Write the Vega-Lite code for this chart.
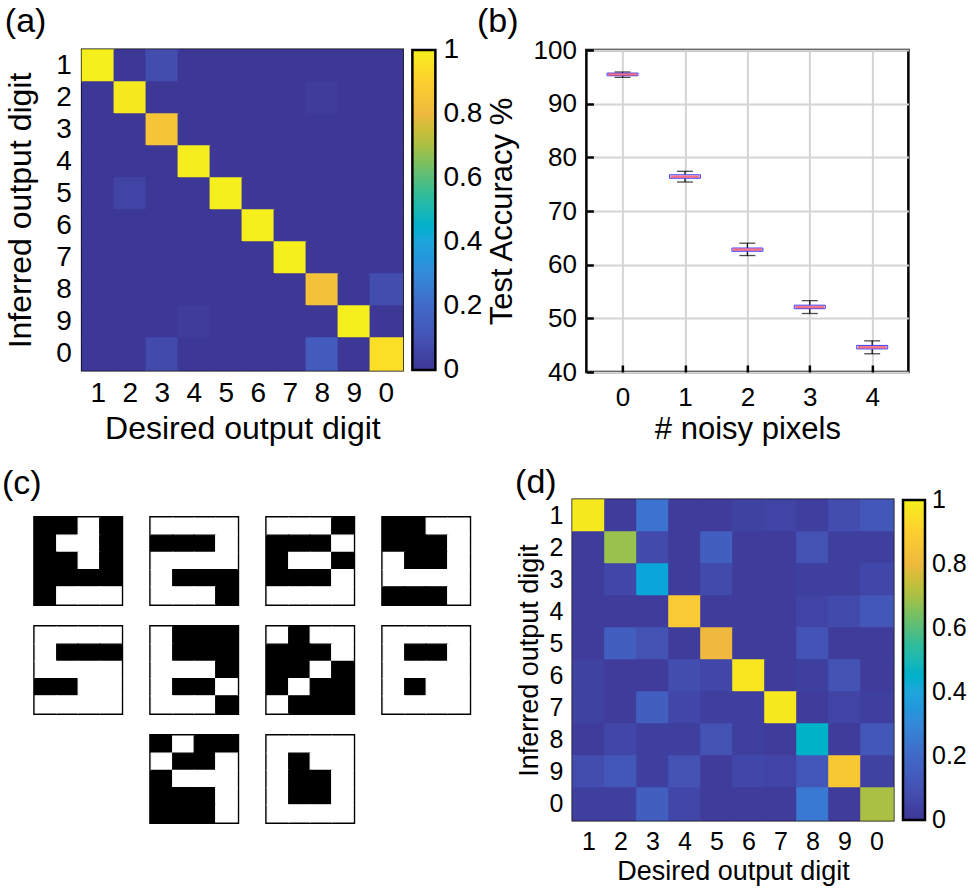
{
  "$schema": "https://vega.github.io/schema/vega-lite/v6.json",
  "background": "white",
  "padding": {"left": 2, "top": 3, "right": 0, "bottom": 0},
  "config": {
    "font": "Liberation Sans",
    "axis": {"labelColor": "black", "titleColor": "black", "titleFontWeight": "normal", "labelFont": "Liberation Sans", "titleFont": "Liberation Sans"},
    "legend": {"labelColor": "black", "labelFont": "Liberation Sans"},
    "title": {"fontWeight": "normal", "fontSize": 34, "anchor": "start", "frame": "bounds", "color": "black", "font": "Liberation Sans"}
  },
  "datasets": {
    "confA": [
      {"inf":"1","des":"1","p":1},{"inf":"1","des":"2","p":0},{"inf":"1","des":"3","p":0.08},{"inf":"1","des":"4","p":0},{"inf":"1","des":"5","p":0},{"inf":"1","des":"6","p":0},{"inf":"1","des":"7","p":0},{"inf":"1","des":"8","p":0},{"inf":"1","des":"9","p":0},{"inf":"1","des":"0","p":0},
      {"inf":"2","des":"1","p":0},{"inf":"2","des":"2","p":0.98},{"inf":"2","des":"3","p":0},{"inf":"2","des":"4","p":0},{"inf":"2","des":"5","p":0},{"inf":"2","des":"6","p":0},{"inf":"2","des":"7","p":0},{"inf":"2","des":"8","p":0.02},{"inf":"2","des":"9","p":0},{"inf":"2","des":"0","p":0},
      {"inf":"3","des":"1","p":0},{"inf":"3","des":"2","p":0},{"inf":"3","des":"3","p":0.85},{"inf":"3","des":"4","p":0},{"inf":"3","des":"5","p":0},{"inf":"3","des":"6","p":0},{"inf":"3","des":"7","p":0},{"inf":"3","des":"8","p":0},{"inf":"3","des":"9","p":0},{"inf":"3","des":"0","p":0},
      {"inf":"4","des":"1","p":0},{"inf":"4","des":"2","p":0},{"inf":"4","des":"3","p":0},{"inf":"4","des":"4","p":0.99},{"inf":"4","des":"5","p":0},{"inf":"4","des":"6","p":0},{"inf":"4","des":"7","p":0},{"inf":"4","des":"8","p":0},{"inf":"4","des":"9","p":0},{"inf":"4","des":"0","p":0},
      {"inf":"5","des":"1","p":0},{"inf":"5","des":"2","p":0.05},{"inf":"5","des":"3","p":0},{"inf":"5","des":"4","p":0},{"inf":"5","des":"5","p":1},{"inf":"5","des":"6","p":0},{"inf":"5","des":"7","p":0},{"inf":"5","des":"8","p":0},{"inf":"5","des":"9","p":0},{"inf":"5","des":"0","p":0},
      {"inf":"6","des":"1","p":0},{"inf":"6","des":"2","p":0},{"inf":"6","des":"3","p":0},{"inf":"6","des":"4","p":0},{"inf":"6","des":"5","p":0},{"inf":"6","des":"6","p":1},{"inf":"6","des":"7","p":0},{"inf":"6","des":"8","p":0},{"inf":"6","des":"9","p":0},{"inf":"6","des":"0","p":0},
      {"inf":"7","des":"1","p":0},{"inf":"7","des":"2","p":0},{"inf":"7","des":"3","p":0},{"inf":"7","des":"4","p":0},{"inf":"7","des":"5","p":0},{"inf":"7","des":"6","p":0},{"inf":"7","des":"7","p":1},{"inf":"7","des":"8","p":0},{"inf":"7","des":"9","p":0},{"inf":"7","des":"0","p":0},
      {"inf":"8","des":"1","p":0},{"inf":"8","des":"2","p":0},{"inf":"8","des":"3","p":0},{"inf":"8","des":"4","p":0},{"inf":"8","des":"5","p":0},{"inf":"8","des":"6","p":0},{"inf":"8","des":"7","p":0},{"inf":"8","des":"8","p":0.84},{"inf":"8","des":"9","p":0},{"inf":"8","des":"0","p":0.08},
      {"inf":"9","des":"1","p":0},{"inf":"9","des":"2","p":0},{"inf":"9","des":"3","p":0},{"inf":"9","des":"4","p":0.02},{"inf":"9","des":"5","p":0},{"inf":"9","des":"6","p":0},{"inf":"9","des":"7","p":0},{"inf":"9","des":"8","p":0},{"inf":"9","des":"9","p":1},{"inf":"9","des":"0","p":0},
      {"inf":"0","des":"1","p":0},{"inf":"0","des":"2","p":0},{"inf":"0","des":"3","p":0.07},{"inf":"0","des":"4","p":0},{"inf":"0","des":"5","p":0},{"inf":"0","des":"6","p":0},{"inf":"0","des":"7","p":0},{"inf":"0","des":"8","p":0.14},{"inf":"0","des":"9","p":0},{"inf":"0","des":"0","p":0.95}
    ],
    "confD": [
      {"inf":"1","des":"1","p":0.98},{"inf":"1","des":"2","p":0.02},{"inf":"1","des":"3","p":0.23},{"inf":"1","des":"4","p":0.02},{"inf":"1","des":"5","p":0.02},{"inf":"1","des":"6","p":0.04},{"inf":"1","des":"7","p":0.05},{"inf":"1","des":"8","p":0.03},{"inf":"1","des":"9","p":0.08},{"inf":"1","des":"0","p":0.12},
      {"inf":"2","des":"1","p":0.02},{"inf":"2","des":"2","p":0.68},{"inf":"2","des":"3","p":0.07},{"inf":"2","des":"4","p":0.02},{"inf":"2","des":"5","p":0.15},{"inf":"2","des":"6","p":0.02},{"inf":"2","des":"7","p":0.02},{"inf":"2","des":"8","p":0.1},{"inf":"2","des":"9","p":0.03},{"inf":"2","des":"0","p":0.03},
      {"inf":"3","des":"1","p":0.02},{"inf":"3","des":"2","p":0.06},{"inf":"3","des":"3","p":0.41},{"inf":"3","des":"4","p":0.02},{"inf":"3","des":"5","p":0.07},{"inf":"3","des":"6","p":0.02},{"inf":"3","des":"7","p":0.02},{"inf":"3","des":"8","p":0.03},{"inf":"3","des":"9","p":0.03},{"inf":"3","des":"0","p":0.06},
      {"inf":"4","des":"1","p":0.02},{"inf":"4","des":"2","p":0.02},{"inf":"4","des":"3","p":0.02},{"inf":"4","des":"4","p":0.88},{"inf":"4","des":"5","p":0.02},{"inf":"4","des":"6","p":0.02},{"inf":"4","des":"7","p":0.02},{"inf":"4","des":"8","p":0.05},{"inf":"4","des":"9","p":0.07},{"inf":"4","des":"0","p":0.12},
      {"inf":"5","des":"1","p":0.02},{"inf":"5","des":"2","p":0.15},{"inf":"5","des":"3","p":0.1},{"inf":"5","des":"4","p":0.02},{"inf":"5","des":"5","p":0.8},{"inf":"5","des":"6","p":0.02},{"inf":"5","des":"7","p":0.02},{"inf":"5","des":"8","p":0.11},{"inf":"5","des":"9","p":0.02},{"inf":"5","des":"0","p":0.02},
      {"inf":"6","des":"1","p":0.04},{"inf":"6","des":"2","p":0.02},{"inf":"6","des":"3","p":0.02},{"inf":"6","des":"4","p":0.08},{"inf":"6","des":"5","p":0.06},{"inf":"6","des":"6","p":0.97},{"inf":"6","des":"7","p":0.02},{"inf":"6","des":"8","p":0.03},{"inf":"6","des":"9","p":0.1},{"inf":"6","des":"0","p":0.02},
      {"inf":"7","des":"1","p":0.04},{"inf":"7","des":"2","p":0.02},{"inf":"7","des":"3","p":0.15},{"inf":"7","des":"4","p":0.06},{"inf":"7","des":"5","p":0.03},{"inf":"7","des":"6","p":0.03},{"inf":"7","des":"7","p":0.98},{"inf":"7","des":"8","p":0.02},{"inf":"7","des":"9","p":0.05},{"inf":"7","des":"0","p":0.03},
      {"inf":"8","des":"1","p":0.02},{"inf":"8","des":"2","p":0.06},{"inf":"8","des":"3","p":0.03},{"inf":"8","des":"4","p":0.03},{"inf":"8","des":"5","p":0.1},{"inf":"8","des":"6","p":0.03},{"inf":"8","des":"7","p":0.02},{"inf":"8","des":"8","p":0.46},{"inf":"8","des":"9","p":0.02},{"inf":"8","des":"0","p":0.12},
      {"inf":"9","des":"1","p":0.08},{"inf":"9","des":"2","p":0.12},{"inf":"9","des":"3","p":0.03},{"inf":"9","des":"4","p":0.1},{"inf":"9","des":"5","p":0.02},{"inf":"9","des":"6","p":0.06},{"inf":"9","des":"7","p":0.05},{"inf":"9","des":"8","p":0.12},{"inf":"9","des":"9","p":0.87},{"inf":"9","des":"0","p":0.04},
      {"inf":"0","des":"1","p":0.03},{"inf":"0","des":"2","p":0.03},{"inf":"0","des":"3","p":0.15},{"inf":"0","des":"4","p":0.06},{"inf":"0","des":"5","p":0.02},{"inf":"0","des":"6","p":0.02},{"inf":"0","des":"7","p":0.02},{"inf":"0","des":"8","p":0.25},{"inf":"0","des":"9","p":0.02},{"inf":"0","des":"0","p":0.7}
    ],
    "noise": [
      {"n":0,"lo":94.9,"q1":95.2,"med":95.45,"q3":95.7,"hi":95.9},
      {"n":1,"lo":75.4,"q1":76.1,"med":76.4,"q3":76.75,"hi":77.4},
      {"n":2,"lo":61.7,"q1":62.5,"med":62.8,"q3":63.1,"hi":64.0},
      {"n":3,"lo":50.9,"q1":51.8,"med":52.1,"q3":52.45,"hi":53.3},
      {"n":4,"lo":43.4,"q1":44.3,"med":44.6,"q3":44.95,"hi":45.8}
    ],
    "digits": [
      {"d":"1","r":0,"c":0,"v":0},{"d":"1","r":0,"c":1,"v":0},{"d":"1","r":0,"c":2,"v":1},{"d":"1","r":0,"c":3,"v":0},
      {"d":"1","r":1,"c":0,"v":0},{"d":"1","r":1,"c":1,"v":1},{"d":"1","r":1,"c":2,"v":1},{"d":"1","r":1,"c":3,"v":0},
      {"d":"1","r":2,"c":0,"v":0},{"d":"1","r":2,"c":1,"v":0},{"d":"1","r":2,"c":2,"v":1},{"d":"1","r":2,"c":3,"v":0},
      {"d":"1","r":3,"c":0,"v":0},{"d":"1","r":3,"c":1,"v":0},{"d":"1","r":3,"c":2,"v":0},{"d":"1","r":3,"c":3,"v":0},
      {"d":"1","r":4,"c":0,"v":0},{"d":"1","r":4,"c":1,"v":1},{"d":"1","r":4,"c":2,"v":1},{"d":"1","r":4,"c":3,"v":1},
      {"d":"2","r":0,"c":0,"v":1},{"d":"2","r":0,"c":1,"v":1},{"d":"2","r":0,"c":2,"v":1},{"d":"2","r":0,"c":3,"v":1},
      {"d":"2","r":1,"c":0,"v":0},{"d":"2","r":1,"c":1,"v":0},{"d":"2","r":1,"c":2,"v":0},{"d":"2","r":1,"c":3,"v":1},
      {"d":"2","r":2,"c":0,"v":1},{"d":"2","r":2,"c":1,"v":1},{"d":"2","r":2,"c":2,"v":1},{"d":"2","r":2,"c":3,"v":1},
      {"d":"2","r":3,"c":0,"v":1},{"d":"2","r":3,"c":1,"v":0},{"d":"2","r":3,"c":2,"v":0},{"d":"2","r":3,"c":3,"v":0},
      {"d":"2","r":4,"c":0,"v":1},{"d":"2","r":4,"c":1,"v":1},{"d":"2","r":4,"c":2,"v":1},{"d":"2","r":4,"c":3,"v":0},
      {"d":"3","r":0,"c":0,"v":1},{"d":"3","r":0,"c":1,"v":1},{"d":"3","r":0,"c":2,"v":1},{"d":"3","r":0,"c":3,"v":0},
      {"d":"3","r":1,"c":0,"v":0},{"d":"3","r":1,"c":1,"v":0},{"d":"3","r":1,"c":2,"v":0},{"d":"3","r":1,"c":3,"v":1},
      {"d":"3","r":2,"c":0,"v":0},{"d":"3","r":2,"c":1,"v":1},{"d":"3","r":2,"c":2,"v":1},{"d":"3","r":2,"c":3,"v":0},
      {"d":"3","r":3,"c":0,"v":0},{"d":"3","r":3,"c":1,"v":0},{"d":"3","r":3,"c":2,"v":0},{"d":"3","r":3,"c":3,"v":1},
      {"d":"3","r":4,"c":0,"v":1},{"d":"3","r":4,"c":1,"v":1},{"d":"3","r":4,"c":2,"v":1},{"d":"3","r":4,"c":3,"v":1},
      {"d":"4","r":0,"c":0,"v":0},{"d":"4","r":0,"c":1,"v":0},{"d":"4","r":0,"c":2,"v":1},{"d":"4","r":0,"c":3,"v":1},
      {"d":"4","r":1,"c":0,"v":0},{"d":"4","r":1,"c":1,"v":0},{"d":"4","r":1,"c":2,"v":0},{"d":"4","r":1,"c":3,"v":1},
      {"d":"4","r":2,"c":0,"v":1},{"d":"4","r":2,"c":1,"v":0},{"d":"4","r":2,"c":2,"v":0},{"d":"4","r":2,"c":3,"v":1},
      {"d":"4","r":3,"c":0,"v":1},{"d":"4","r":3,"c":1,"v":1},{"d":"4","r":3,"c":2,"v":1},{"d":"4","r":3,"c":3,"v":1},
      {"d":"4","r":4,"c":0,"v":0},{"d":"4","r":4,"c":1,"v":0},{"d":"4","r":4,"c":2,"v":0},{"d":"4","r":4,"c":3,"v":1},
      {"d":"5","r":0,"c":0,"v":1},{"d":"5","r":0,"c":1,"v":1},{"d":"5","r":0,"c":2,"v":1},{"d":"5","r":0,"c":3,"v":1},
      {"d":"5","r":1,"c":0,"v":1},{"d":"5","r":1,"c":1,"v":0},{"d":"5","r":1,"c":2,"v":0},{"d":"5","r":1,"c":3,"v":0},
      {"d":"5","r":2,"c":0,"v":1},{"d":"5","r":2,"c":1,"v":1},{"d":"5","r":2,"c":2,"v":1},{"d":"5","r":2,"c":3,"v":1},
      {"d":"5","r":3,"c":0,"v":0},{"d":"5","r":3,"c":1,"v":0},{"d":"5","r":3,"c":2,"v":1},{"d":"5","r":3,"c":3,"v":1},
      {"d":"5","r":4,"c":0,"v":1},{"d":"5","r":4,"c":1,"v":1},{"d":"5","r":4,"c":2,"v":1},{"d":"5","r":4,"c":3,"v":1},
      {"d":"6","r":0,"c":0,"v":1},{"d":"6","r":0,"c":1,"v":0},{"d":"6","r":0,"c":2,"v":0},{"d":"6","r":0,"c":3,"v":0},
      {"d":"6","r":1,"c":0,"v":1},{"d":"6","r":1,"c":1,"v":0},{"d":"6","r":1,"c":2,"v":0},{"d":"6","r":1,"c":3,"v":0},
      {"d":"6","r":2,"c":0,"v":1},{"d":"6","r":2,"c":1,"v":1},{"d":"6","r":2,"c":2,"v":1},{"d":"6","r":2,"c":3,"v":0},
      {"d":"6","r":3,"c":0,"v":1},{"d":"6","r":3,"c":1,"v":0},{"d":"6","r":3,"c":2,"v":0},{"d":"6","r":3,"c":3,"v":1},
      {"d":"6","r":4,"c":0,"v":1},{"d":"6","r":4,"c":1,"v":1},{"d":"6","r":4,"c":2,"v":1},{"d":"6","r":4,"c":3,"v":0},
      {"d":"7","r":0,"c":0,"v":1},{"d":"7","r":0,"c":1,"v":0},{"d":"7","r":0,"c":2,"v":1},{"d":"7","r":0,"c":3,"v":1},
      {"d":"7","r":1,"c":0,"v":0},{"d":"7","r":1,"c":1,"v":0},{"d":"7","r":1,"c":2,"v":0},{"d":"7","r":1,"c":3,"v":1},
      {"d":"7","r":2,"c":0,"v":0},{"d":"7","r":2,"c":1,"v":0},{"d":"7","r":2,"c":2,"v":1},{"d":"7","r":2,"c":3,"v":0},
      {"d":"7","r":3,"c":0,"v":0},{"d":"7","r":3,"c":1,"v":1},{"d":"7","r":3,"c":2,"v":0},{"d":"7","r":3,"c":3,"v":0},
      {"d":"7","r":4,"c":0,"v":1},{"d":"7","r":4,"c":1,"v":0},{"d":"7","r":4,"c":2,"v":0},{"d":"7","r":4,"c":3,"v":0},
      {"d":"8","r":0,"c":0,"v":1},{"d":"8","r":0,"c":1,"v":1},{"d":"8","r":0,"c":2,"v":1},{"d":"8","r":0,"c":3,"v":1},
      {"d":"8","r":1,"c":0,"v":1},{"d":"8","r":1,"c":1,"v":0},{"d":"8","r":1,"c":2,"v":0},{"d":"8","r":1,"c":3,"v":1},
      {"d":"8","r":2,"c":0,"v":1},{"d":"8","r":2,"c":1,"v":1},{"d":"8","r":2,"c":2,"v":1},{"d":"8","r":2,"c":3,"v":1},
      {"d":"8","r":3,"c":0,"v":1},{"d":"8","r":3,"c":1,"v":0},{"d":"8","r":3,"c":2,"v":1},{"d":"8","r":3,"c":3,"v":1},
      {"d":"8","r":4,"c":0,"v":1},{"d":"8","r":4,"c":1,"v":1},{"d":"8","r":4,"c":2,"v":1},{"d":"8","r":4,"c":3,"v":1},
      {"d":"9","r":0,"c":0,"v":0},{"d":"9","r":0,"c":1,"v":1},{"d":"9","r":0,"c":2,"v":0},{"d":"9","r":0,"c":3,"v":0},
      {"d":"9","r":1,"c":0,"v":1},{"d":"9","r":1,"c":1,"v":0},{"d":"9","r":1,"c":2,"v":0},{"d":"9","r":1,"c":3,"v":1},
      {"d":"9","r":2,"c":0,"v":0},{"d":"9","r":2,"c":1,"v":1},{"d":"9","r":2,"c":2,"v":1},{"d":"9","r":2,"c":3,"v":1},
      {"d":"9","r":3,"c":0,"v":0},{"d":"9","r":3,"c":1,"v":0},{"d":"9","r":3,"c":2,"v":0},{"d":"9","r":3,"c":3,"v":1},
      {"d":"9","r":4,"c":0,"v":0},{"d":"9","r":4,"c":1,"v":0},{"d":"9","r":4,"c":2,"v":0},{"d":"9","r":4,"c":3,"v":1},
      {"d":"0","r":0,"c":0,"v":1},{"d":"0","r":0,"c":1,"v":1},{"d":"0","r":0,"c":2,"v":1},{"d":"0","r":0,"c":3,"v":1},
      {"d":"0","r":1,"c":0,"v":1},{"d":"0","r":1,"c":1,"v":0},{"d":"0","r":1,"c":2,"v":1},{"d":"0","r":1,"c":3,"v":1},
      {"d":"0","r":2,"c":0,"v":1},{"d":"0","r":2,"c":1,"v":0},{"d":"0","r":2,"c":2,"v":0},{"d":"0","r":2,"c":3,"v":1},
      {"d":"0","r":3,"c":0,"v":1},{"d":"0","r":3,"c":1,"v":0},{"d":"0","r":3,"c":2,"v":0},{"d":"0","r":3,"c":3,"v":1},
      {"d":"0","r":4,"c":0,"v":1},{"d":"0","r":4,"c":1,"v":1},{"d":"0","r":4,"c":2,"v":1},{"d":"0","r":4,"c":3,"v":1}
    ]
  },
  "vconcat": [
    {
      "hconcat": [
        {
          "title": {"text": "(a)", "offset": 10},
          "width": 320, "height": 320,
          "data": {"name": "confA"},
          "view": {"stroke": "black", "strokeWidth": 3},
          "mark": {"type": "rect", "strokeWidth": 0, "width": {"band": 1.05}, "height": {"band": 1.05}},
          "encoding": {
            "x": {"field": "des", "type": "ordinal", "sort": ["1","2","3","4","5","6","7","8","9","0"], "scale": {"paddingInner": 0, "paddingOuter": 0},
                  "axis": {"title": "Desired output digit", "labelAngle": 0, "ticks": false, "domain": false, "labelPadding": 9, "labelFontSize": 28, "titleFontSize": 32, "titlePadding": 6}},
            "y": {"field": "inf", "type": "ordinal", "sort": ["1","2","3","4","5","6","7","8","9","0"], "scale": {"paddingInner": 0, "paddingOuter": 0},
                  "axis": {"title": "Inferred output digit", "ticks": false, "domain": false, "labelPadding": 11, "labelFontSize": 28, "titleFontSize": 32, "titlePadding": 18}},
            "color": {"field": "p", "type": "quantitative",
                      "scale": {"domain": [0,0.1,0.2,0.3,0.4,0.5,0.6,0.7,0.8,0.9,1], "range": ["#3d3796","#4452b4","#4169c8","#3489d8","#1ea5dc","#1cb8b4","#58bd7a","#a9c043","#eeb93c","#fccf30","#f5f01c"]},
                      "legend": {"title": null, "orient": "right", "offset": 10, "gradientLength": 320, "gradientThickness": 23, "gradientStrokeColor": "black", "gradientStrokeWidth": 2.5, "labelFontSize": 28, "labelOffset": 8, "values": [0,0.2,0.4,0.6,0.8,1], "format": "~g",
                                 "encode": {"labels": {"update": {"baseline": {"value": "middle"}}}}}}
          }
        },
        {
          "title": {"text": "(b)", "dx": -10, "offset": -2},
          "width": 322, "height": 322,
          "data": {"name": "noise"},
          "view": {"stroke": "black", "strokeWidth": 2.5},
          "encoding": {
            "x": {"field": "n", "type": "quantitative", "scale": {"domain": [-0.5, 4.5], "nice": false},
                  "axis": {"title": "# noisy pixels", "values": [0,1,2,3,4], "grid": true, "gridColor": "#d4d4d4", "gridWidth": 2, "domain": false, "ticks": true, "tickSize": -7, "tickWidth": 2.5, "tickColor": "black", "labelPadding": 19, "labelFontSize": 26, "titleFontSize": 31, "titlePadding": 4}}
          },
          "layer": [
            {"mark": {"type": "rule", "color": "black", "strokeWidth": 1.2},
             "encoding": {"y": {"field": "lo", "type": "quantitative", "scale": {"domain": [40, 100], "nice": false},
                                "axis": {"title": "Test Accuracy %", "values": [40,50,60,70,80,90,100], "grid": true, "gridColor": "#d4d4d4", "gridWidth": 2, "domain": false, "ticks": true, "tickSize": -7, "tickWidth": 2.5, "tickColor": "black", "labelPadding": 17, "labelFontSize": 26, "titleFontSize": 31, "titlePadding": 14}},
                          "y2": {"field": "hi"}}},
            {"mark": {"type": "tick", "orient": "horizontal", "color": "black", "size": 16, "thickness": 1.3},
             "encoding": {"y": {"field": "lo", "type": "quantitative"}}},
            {"mark": {"type": "tick", "orient": "horizontal", "color": "black", "size": 16, "thickness": 1.3},
             "encoding": {"y": {"field": "hi", "type": "quantitative"}}},
            {"mark": {"type": "bar", "size": 31, "fill": "white", "stroke": "#3d3dff", "strokeWidth": 1},
             "encoding": {"y": {"field": "q1", "type": "quantitative"}, "y2": {"field": "q3"}}},
            {"mark": {"type": "tick", "orient": "horizontal", "color": "#f0364f", "size": 29, "thickness": 2.5},
             "encoding": {"y": {"field": "med", "type": "quantitative"}}}
          ]
        }
      ],
      "spacing": -9,
      "resolve": {"scale": {"color": "independent", "stroke": "independent", "fill": "independent"}}
    },
    {
      "hconcat": [
        {
          "title": {"text": "(c)", "offset": -1},
          "vconcat": [
            {"width": 1, "height": 1, "data": {"values": []}, "mark": "rect", "view": {"stroke": null}},
            {"hconcat": [
              {"width": 30, "height": 1, "data": {"values": []}, "mark": "rect", "view": {"stroke": null}},
              {"vconcat": [
                {"hconcat": [
                  {"data": {"name": "digits"}, "transform": [{"filter": "datum.d == '1'"}], "width": 86, "height": 86, "view": {"stroke": "black", "strokeWidth": 4}, "mark": {"type": "rect", "strokeWidth": 1.2},
                   "encoding": {"x": {"field": "c", "type": "ordinal", "axis": null, "scale": {"paddingInner": 0, "paddingOuter": 0}}, "y": {"field": "r", "type": "ordinal", "axis": null, "scale": {"paddingInner": 0, "paddingOuter": 0}},
                                "fill": {"field": "v", "type": "nominal", "scale": {"domain": [0, 1], "range": ["black", "white"]}, "legend": null}, "stroke": {"field": "v", "type": "nominal", "scale": {"domain": [0, 1], "range": ["black", "white"]}, "legend": null}}},
                  {"data": {"name": "digits"}, "transform": [{"filter": "datum.d == '2'"}], "width": 86, "height": 86, "view": {"stroke": "black", "strokeWidth": 4}, "mark": {"type": "rect", "strokeWidth": 1.2},
                   "encoding": {"x": {"field": "c", "type": "ordinal", "axis": null, "scale": {"paddingInner": 0, "paddingOuter": 0}}, "y": {"field": "r", "type": "ordinal", "axis": null, "scale": {"paddingInner": 0, "paddingOuter": 0}},
                                "fill": {"field": "v", "type": "nominal", "scale": {"domain": [0, 1], "range": ["black", "white"]}, "legend": null}, "stroke": {"field": "v", "type": "nominal", "scale": {"domain": [0, 1], "range": ["black", "white"]}, "legend": null}}},
                  {"data": {"name": "digits"}, "transform": [{"filter": "datum.d == '3'"}], "width": 86, "height": 86, "view": {"stroke": "black", "strokeWidth": 4}, "mark": {"type": "rect", "strokeWidth": 1.2},
                   "encoding": {"x": {"field": "c", "type": "ordinal", "axis": null, "scale": {"paddingInner": 0, "paddingOuter": 0}}, "y": {"field": "r", "type": "ordinal", "axis": null, "scale": {"paddingInner": 0, "paddingOuter": 0}},
                                "fill": {"field": "v", "type": "nominal", "scale": {"domain": [0, 1], "range": ["black", "white"]}, "legend": null}, "stroke": {"field": "v", "type": "nominal", "scale": {"domain": [0, 1], "range": ["black", "white"]}, "legend": null}}},
                  {"data": {"name": "digits"}, "transform": [{"filter": "datum.d == '4'"}], "width": 86, "height": 86, "view": {"stroke": "black", "strokeWidth": 4}, "mark": {"type": "rect", "strokeWidth": 1.2},
                   "encoding": {"x": {"field": "c", "type": "ordinal", "axis": null, "scale": {"paddingInner": 0, "paddingOuter": 0}}, "y": {"field": "r", "type": "ordinal", "axis": null, "scale": {"paddingInner": 0, "paddingOuter": 0}},
                                "fill": {"field": "v", "type": "nominal", "scale": {"domain": [0, 1], "range": ["black", "white"]}, "legend": null}, "stroke": {"field": "v", "type": "nominal", "scale": {"domain": [0, 1], "range": ["black", "white"]}, "legend": null}}}
                ], "spacing": 24},
                {"hconcat": [
                  {"data": {"name": "digits"}, "transform": [{"filter": "datum.d == '5'"}], "width": 86, "height": 86, "view": {"stroke": "black", "strokeWidth": 4}, "mark": {"type": "rect", "strokeWidth": 1.2},
                   "encoding": {"x": {"field": "c", "type": "ordinal", "axis": null, "scale": {"paddingInner": 0, "paddingOuter": 0}}, "y": {"field": "r", "type": "ordinal", "axis": null, "scale": {"paddingInner": 0, "paddingOuter": 0}},
                                "fill": {"field": "v", "type": "nominal", "scale": {"domain": [0, 1], "range": ["black", "white"]}, "legend": null}, "stroke": {"field": "v", "type": "nominal", "scale": {"domain": [0, 1], "range": ["black", "white"]}, "legend": null}}},
                  {"data": {"name": "digits"}, "transform": [{"filter": "datum.d == '6'"}], "width": 86, "height": 86, "view": {"stroke": "black", "strokeWidth": 4}, "mark": {"type": "rect", "strokeWidth": 1.2},
                   "encoding": {"x": {"field": "c", "type": "ordinal", "axis": null, "scale": {"paddingInner": 0, "paddingOuter": 0}}, "y": {"field": "r", "type": "ordinal", "axis": null, "scale": {"paddingInner": 0, "paddingOuter": 0}},
                                "fill": {"field": "v", "type": "nominal", "scale": {"domain": [0, 1], "range": ["black", "white"]}, "legend": null}, "stroke": {"field": "v", "type": "nominal", "scale": {"domain": [0, 1], "range": ["black", "white"]}, "legend": null}}},
                  {"data": {"name": "digits"}, "transform": [{"filter": "datum.d == '7'"}], "width": 86, "height": 86, "view": {"stroke": "black", "strokeWidth": 4}, "mark": {"type": "rect", "strokeWidth": 1.2},
                   "encoding": {"x": {"field": "c", "type": "ordinal", "axis": null, "scale": {"paddingInner": 0, "paddingOuter": 0}}, "y": {"field": "r", "type": "ordinal", "axis": null, "scale": {"paddingInner": 0, "paddingOuter": 0}},
                                "fill": {"field": "v", "type": "nominal", "scale": {"domain": [0, 1], "range": ["black", "white"]}, "legend": null}, "stroke": {"field": "v", "type": "nominal", "scale": {"domain": [0, 1], "range": ["black", "white"]}, "legend": null}}},
                  {"data": {"name": "digits"}, "transform": [{"filter": "datum.d == '8'"}], "width": 86, "height": 86, "view": {"stroke": "black", "strokeWidth": 4}, "mark": {"type": "rect", "strokeWidth": 1.2},
                   "encoding": {"x": {"field": "c", "type": "ordinal", "axis": null, "scale": {"paddingInner": 0, "paddingOuter": 0}}, "y": {"field": "r", "type": "ordinal", "axis": null, "scale": {"paddingInner": 0, "paddingOuter": 0}},
                                "fill": {"field": "v", "type": "nominal", "scale": {"domain": [0, 1], "range": ["black", "white"]}, "legend": null}, "stroke": {"field": "v", "type": "nominal", "scale": {"domain": [0, 1], "range": ["black", "white"]}, "legend": null}}}
                ], "spacing": 24},
                {"hconcat": [
                  {"data": {"name": "digits"}, "transform": [{"filter": "datum.d == '9'"}], "width": 86, "height": 86, "view": {"stroke": "black", "strokeWidth": 4}, "mark": {"type": "rect", "strokeWidth": 1.2},
                   "encoding": {"x": {"field": "c", "type": "ordinal", "axis": null, "scale": {"paddingInner": 0, "paddingOuter": 0}}, "y": {"field": "r", "type": "ordinal", "axis": null, "scale": {"paddingInner": 0, "paddingOuter": 0}},
                                "fill": {"field": "v", "type": "nominal", "scale": {"domain": [0, 1], "range": ["black", "white"]}, "legend": null}, "stroke": {"field": "v", "type": "nominal", "scale": {"domain": [0, 1], "range": ["black", "white"]}, "legend": null}}},
                  {"data": {"name": "digits"}, "transform": [{"filter": "datum.d == '0'"}], "width": 86, "height": 86, "view": {"stroke": "black", "strokeWidth": 4}, "mark": {"type": "rect", "strokeWidth": 1.2},
                   "encoding": {"x": {"field": "c", "type": "ordinal", "axis": null, "scale": {"paddingInner": 0, "paddingOuter": 0}}, "y": {"field": "r", "type": "ordinal", "axis": null, "scale": {"paddingInner": 0, "paddingOuter": 0}},
                                "fill": {"field": "v", "type": "nominal", "scale": {"domain": [0, 1], "range": ["black", "white"]}, "legend": null}, "stroke": {"field": "v", "type": "nominal", "scale": {"domain": [0, 1], "range": ["black", "white"]}, "legend": null}}}
                ], "spacing": 24}
              ],
              "spacing": 17,
              "center": true},
              {"width": 41, "height": 1, "data": {"values": []}, "mark": "rect", "view": {"stroke": null}}
            ], "spacing": 0}
          ],
          "spacing": 14
        },
        {
          "title": {"text": "(d)", "offset": -1},
          "width": 320, "height": 320,
          "data": {"name": "confD"},
          "view": {"stroke": "black", "strokeWidth": 3},
          "mark": {"type": "rect", "strokeWidth": 0, "width": {"band": 1.05}, "height": {"band": 1.05}},
          "encoding": {
            "x": {"field": "des", "type": "ordinal", "sort": ["1","2","3","4","5","6","7","8","9","0"], "scale": {"paddingInner": 0, "paddingOuter": 0},
                  "axis": {"title": "Desired output digit", "labelAngle": 0, "ticks": false, "domain": false, "labelPadding": 9, "labelFontSize": 25, "titleFontSize": 27, "titlePadding": 4}},
            "y": {"field": "inf", "type": "ordinal", "sort": ["1","2","3","4","5","6","7","8","9","0"], "scale": {"paddingInner": 0, "paddingOuter": 0},
                  "axis": {"title": "Inferred output digit", "ticks": false, "domain": false, "labelPadding": 10, "labelFontSize": 25, "titleFontSize": 27, "titlePadding": 6}},
            "color": {"field": "p", "type": "quantitative",
                      "scale": {"domain": [0,0.1,0.2,0.3,0.4,0.5,0.6,0.7,0.8,0.9,1], "range": ["#3d3796","#4452b4","#4169c8","#3489d8","#1ea5dc","#1cb8b4","#58bd7a","#a9c043","#eeb93c","#fccf30","#f5f01c"]},
                      "legend": {"title": null, "orient": "right", "offset": 10, "gradientLength": 320, "gradientThickness": 22, "gradientStrokeColor": "black", "gradientStrokeWidth": 2.5, "labelFontSize": 25, "labelOffset": 7, "values": [0,0.2,0.4,0.6,0.8,1], "format": "~g",
                                 "encode": {"labels": {"update": {"baseline": {"value": "middle"}}}}}}
          }
        },
        {"width": 21, "height": 1, "data": {"values": []}, "mark": "rect", "view": {"stroke": null}}
      ],
      "spacing": 0,
      "resolve": {"scale": {"color": "independent", "stroke": "independent", "fill": "independent"}}
    }
  ],
  "center": true,
  "spacing": 18,
  "resolve": {"scale": {"color": "independent", "stroke": "independent", "fill": "independent"}}
}
